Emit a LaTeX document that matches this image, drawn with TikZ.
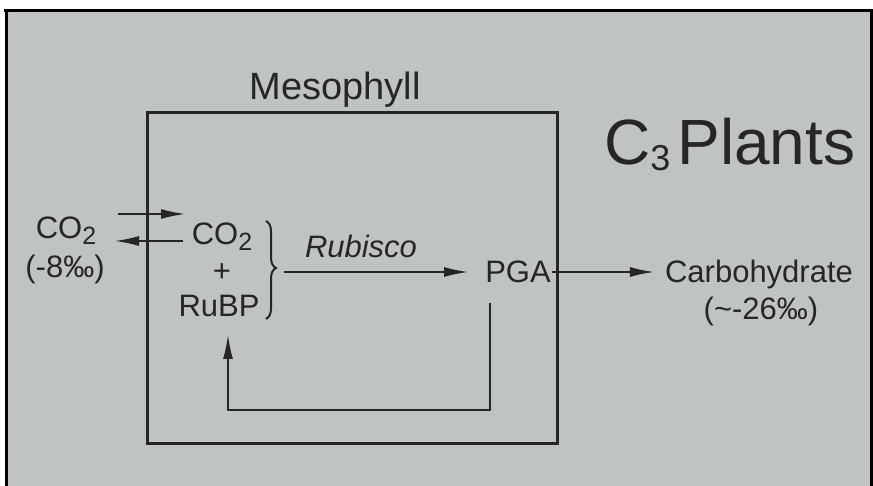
\documentclass[tikz,border=0pt]{standalone}
\usepackage{fontspec}
\setmainfont{Liberation Sans}
\usetikzlibrary{arrows.meta,decorations.pathreplacing}
\definecolor{paper}{RGB}{191,195,196}
\definecolor{ink}{RGB}{38,38,40}
\newcommand{\lowsub}[1]{\raisebox{-6pt}{\fontsize{25}{27}\selectfont #1}}

\begin{document}
\begin{tikzpicture}[x=1pt, y=-1pt,
  lbl/.style={font=\fontsize{31}{36}\selectfont, text=ink, inner sep=1pt, anchor=base},
  title/.style={font=\fontsize{38}{44}\selectfont, text=ink, inner sep=1pt, anchor=base},
  bigtitle/.style={font=\fontsize{64}{70}\selectfont, text=ink, inner sep=1pt, anchor=base west},
  box/.style={draw=ink, line width=3pt},
  frame/.style={draw=black, line width=3pt},
  arr/.style={draw=ink, line width=2.4pt, -{Latex[length=25pt, width=10pt]}},
  bracestyle/.style={draw=ink, line width=2pt, decorate, decoration={brace, amplitude=10pt, aspect=0.48}}
]
\fill[white] (0,0) rectangle (873,486);
\fill[paper] (6,11) rectangle (872,486);
\useasboundingbox (0,0) rectangle (873,486);
\draw[frame] (4,11) -- (873,11);
\draw[frame] (6,11) -- (6,486);
\draw[frame] (871.5,11) -- (871.5,486);

\draw[box] (147,113) rectangle (557,443);
\node[title] (meso) at (335,100) {Mesophyll};
\node[bigtitle] (plants) at (603,165) {C\raisebox{-6pt}{\fontsize{36}{40}\selectfont 3}\hspace{7pt}Plants};

\node[lbl] (co2out) at (66,239) {CO\lowsub{2}};
\node[lbl] (dout) at (65,278) {(-8‰)};
\node[lbl] (co2in) at (222,245) {CO\lowsub{2}};
\node[lbl, anchor=center] (plus) at (222,273) {+};
\node[lbl] (rubp) at (219,317) {RuBP};
\node[lbl, font=\fontsize{31}{36}\selectfont\itshape] (rubisco) at (361,258) {Rubisco};
\node[lbl] (pga) at (518,283) {PGA};
\node[lbl] (carb) at (759,283) {Carbohydrate};
\node[lbl] (dcarb) at (761,320) {(\textasciitilde-26‰)};

\coordinate (inA) at (118,214);
\coordinate (inB) at (186,214);
\coordinate (outA) at (183,241);
\coordinate (outB) at (114,241);
\coordinate (braceT) at (266,221);
\coordinate (braceB) at (266,319);
\coordinate (bracetip) at (284,272);
\coordinate (fbtop) at (490,303);
\coordinate (fbend) at (228,334);

\draw[arr] (inA) -- (inB);
\draw[arr] (outA) -- (outB);
\draw[bracestyle] (braceT) -- (braceB);
\draw[arr, shorten >=15pt] (bracetip) -- (bracetip -| pga.west);
\draw[arr, shorten >=9pt] (pga.east |- bracetip) -- (bracetip -| carb.west);
\draw[arr] (fbtop) -- ++(0,107) -| (fbend);

\end{tikzpicture}
\end{document}
